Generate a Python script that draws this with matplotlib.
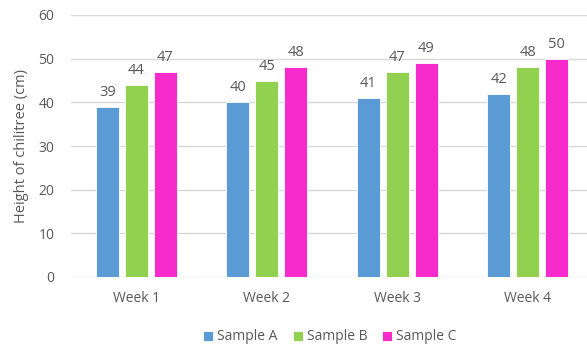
import numpy as np
import matplotlib.pyplot as plt

weeks = ['Week 1', 'Week 2', 'Week 3', 'Week 4']
samples = ['Sample A', 'Sample B', 'Sample C']
sample_a = [39, 40, 41, 42]
sample_b = [44, 45, 47, 48]
sample_c = [47, 48, 49, 50]
colors = ['#5B9BD5', '#92D050', '#F72BCB']

plt.rcParams['font.family'] = ['Open Sans', 'DejaVu Sans']
txt = '#595959'

fig = plt.figure(figsize=(5.87, 3.46), dpi=100)
ax = fig.add_axes([71 / 587, 1 - 277 / 346, 522 / 587, 262 / 346])

x = np.arange(len(weeks))
w = 0.176
step = 0.222
for i, (vals, name) in enumerate(zip([sample_a, sample_b, sample_c], samples)):
    bars = ax.bar(x + (i - 1) * step, vals, w, color=colors[i], label=name,
                  edgecolor='white', linewidth=0.6, zorder=3)
    for b, v in zip(bars, vals):
        ax.annotate(str(v), (b.get_x() + b.get_width() / 2, v),
                    xytext=(0, 5), textcoords='offset points',
                    ha='center', va='bottom', fontsize=10.5, color=txt)

ax.set_xlim(-0.5, 3.5)
ax.set_ylim(0, 60)
ax.set_yticks(range(0, 61, 10))
ax.set_xticks(x)
ax.set_xticklabels(weeks)
ax.tick_params(length=0, labelsize=10, labelcolor=txt)
ax.tick_params(axis='x', pad=10)
ax.tick_params(axis='y', pad=12)
ax.grid(axis='y', color='#D9D9D9', linewidth=1, zorder=0)
for s in ax.spines.values():
    s.set_visible(False)
ax.set_ylabel('Height of chilitree (cm)', fontsize=10.5, color=txt, labelpad=7)

fig.legend(loc='center', bbox_to_anchor=(330 / 587, 1 - 337 / 346), ncol=3,
           frameon=False, fontsize=10, labelcolor=txt, handlelength=0.7,
           handleheight=0.7, handletextpad=0.3, columnspacing=1.1)

fig.savefig('out.png', dpi=100)
